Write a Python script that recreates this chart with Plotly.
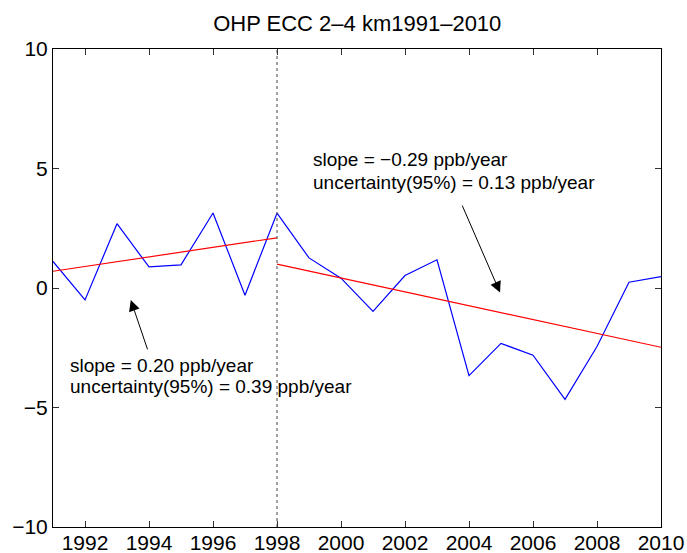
import plotly.graph_objects as go

# Annual anomalies, OHP ECC ozonesondes, 2-4 km layer (ppb)
years = list(range(1991, 2011))
anomaly = [1.11, -0.50, 2.69, 0.88, 0.97, 3.14, -0.30, 3.13, 1.26, 0.41,
           -0.98, 0.52, 1.18, -3.67, -2.32, -2.81, -4.66, -2.45, 0.24, 0.48]

# Linear trend segments (before / after the 1998 break)
trend1_x = [1991, 1998]
trend1_y = [0.70, 2.10]    # 0.20 ppb/year
trend2_x = [1998, 2010]
trend2_y = [1.00, -2.48]   # -0.29 ppb/year

break_year = 1998

x_ticks = list(range(1992, 2011, 2))
y_ticks = [-10, -5, 0, 5, 10]
y_tick_text = ["\u221210", "\u22125", "0", "5", "10"]

font_family = "Liberation Sans, Arial, Helvetica, sans-serif"
fs_label = 19
fs_tick = 21
fs_title = 22

fig = go.Figure()
fig.add_trace(go.Scatter(x=years, y=anomaly, mode="lines",
                         line=dict(color="#0000ff", width=1.2), showlegend=False))
fig.add_trace(go.Scatter(x=trend1_x, y=trend1_y, mode="lines",
                         line=dict(color="#ff0000", width=1.2), showlegend=False))
fig.add_trace(go.Scatter(x=trend2_x, y=trend2_y, mode="lines",
                         line=dict(color="#ff0000", width=1.2), showlegend=False))

# Dotted separator at the break year
fig.add_shape(type="line", x0=break_year, x1=break_year, y0=0, y1=1,
              xref="x", yref="paper",
              line=dict(color="#444444", width=1, dash="dot"))

# Arrows pointing at the trend lines
fig.add_annotation(x=1993.43, y=-0.50, ax=1993.97, ay=-2.63,
                   xref="x", yref="y", axref="x", ayref="y",
                   text="", showarrow=True, arrowhead=2, arrowsize=2.2,
                   arrowwidth=1, arrowcolor="black")
fig.add_annotation(x=2004.97, y=-0.19, ax=2003.77, ay=3.51,
                   xref="x", yref="y", axref="x", ayref="y",
                   text="", showarrow=True, arrowhead=2, arrowsize=2.2,
                   arrowwidth=1, arrowcolor="black")

# Trend labels
labels = [
    (1991.46, -3.25, "slope = 0.20 ppb/year"),
    (1991.46, -4.12, "uncertainty(95%) = 0.39 ppb/year"),
    (1999.07, 5.36, "slope = \u22120.29 ppb/year"),
    (1999.07, 4.43, "uncertainty(95%) = 0.13 ppb/year"),
]
for lx, ly, txt in labels:
    fig.add_annotation(x=lx, y=ly, xref="x", yref="y", text=txt,
                       showarrow=False, xanchor="left", yanchor="middle",
                       font=dict(family=font_family, size=fs_label, color="black"))

fig.update_layout(
    width=687, height=553,
    margin=dict(l=53, r=26, t=49, b=26),
    paper_bgcolor="white", plot_bgcolor="white",
    font=dict(family=font_family, size=fs_tick, color="black"),
    title=dict(text="OHP ECC 2\u20134 km1991\u20132010", x=0.52, xanchor="center",
               y=0.958, yanchor="middle",
               font=dict(family=font_family, size=fs_title, color="black")),
)
fig.update_xaxes(range=[1991, 2010], tickvals=x_ticks,
                 ticktext=[str(t) for t in x_ticks],
                 tickfont=dict(size=fs_tick), ticklabelstandoff=-3,
                 showgrid=False, zeroline=False, showline=True,
                 linecolor="black", linewidth=1, mirror="ticks",
                 ticks="inside", ticklen=6, tickcolor="#333333",
                 automargin=False)
fig.update_yaxes(range=[-10, 10], tickvals=y_ticks, ticktext=y_tick_text,
                 tickfont=dict(size=fs_tick),
                 showgrid=False, zeroline=False, showline=True,
                 linecolor="black", linewidth=1, mirror="ticks",
                 ticks="inside", ticklen=6, tickcolor="#333333",
                 automargin=False)

fig.write_html("out.html")
